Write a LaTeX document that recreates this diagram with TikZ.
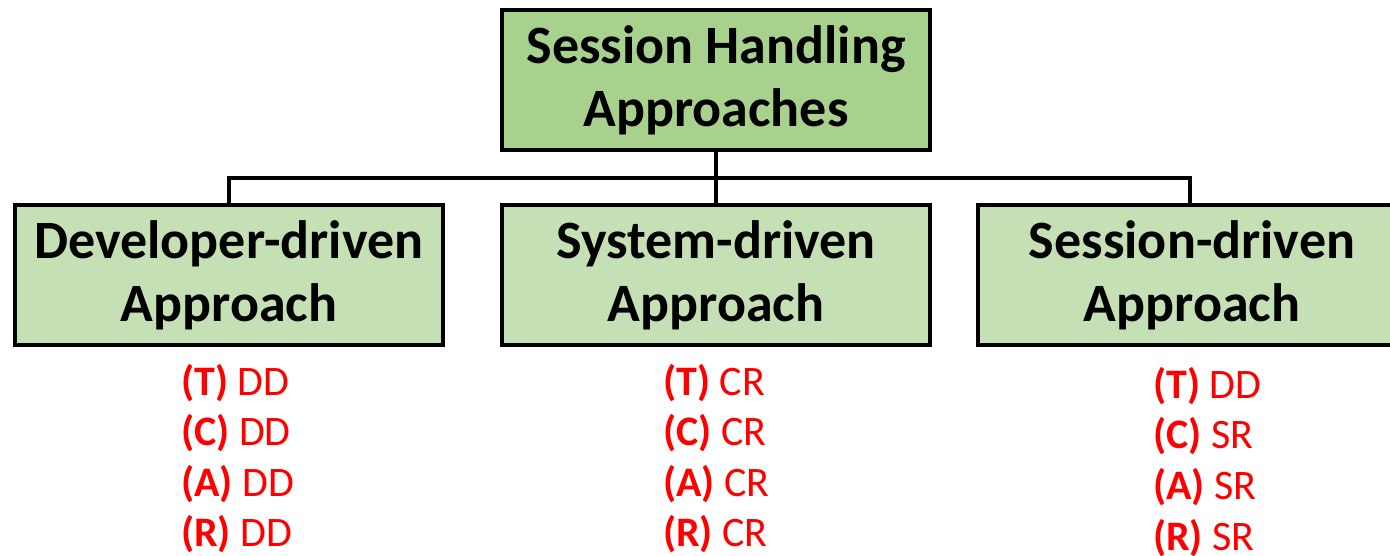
\documentclass[tikz,border=0pt]{standalone}
\usepackage{fontspec}
\setmainfont{Carlito}
\definecolor{topgreen}{HTML}{A9D18E}
\definecolor{subgreen}{HTML}{C5E0B4}
\definecolor{lblred}{HTML}{FF0000}
\begin{document}
\begin{tikzpicture}[x=1pt,y=-1pt,
  box/.style={draw=black,line width=4pt,minimum width=428pt,minimum height=140pt,
    inner sep=0pt,align=center,font=\fontsize{54}{63}\selectfont\bfseries},
  conn/.style={draw=black,line width=3.5pt},
  lbl/.style={anchor=base west,inner sep=0pt,text=lblred,font=\fontsize{42}{50}\selectfont}]
\useasboundingbox (0,0) rectangle (1390,556);
\node[box,fill=topgreen] (top) at (716,80) {Session Handling\\Approaches};
\node[box,fill=subgreen] (dev) at (229,275) {Developer-driven\\Approach};
\node[box,fill=subgreen] (sys) at (716,275) {System-driven\\Approach};
\node[box,fill=subgreen] (ses) at (1192,275) {Session-driven\\Approach};
\coordinate (j) at (716,178);
\draw[conn] (top.south) -- (j);
\draw[conn] (j) -| (dev.north);
\draw[conn] (j) -- (sys.north);
\draw[conn] (j) -| ([xshift=-2pt]ses.north);
% left column
\node[lbl] (d1) at (181,395) {\textbf{(T)} DD};
\node[lbl] (d2) at (181,445) {\textbf{(C)} DD};
\node[lbl] (d3) at (181,496) {\textbf{(A)} DD};
\node[lbl] (d4) at (181,546) {\textbf{(R)} DD};
% middle column
\node[lbl] (s1) at (663,395) {\textbf{(T)} CR};
\node[lbl] (s2) at (663,445) {\textbf{(C)} CR};
\node[lbl] (s3) at (663,496) {\textbf{(A)} CR};
\node[lbl] (s4) at (663,546) {\textbf{(R)} CR};
% right column
\node[lbl] (e1) at (1153,398) {\textbf{(T)} DD};
\node[lbl] (e2) at (1153,448) {\textbf{(C)} SR};
\node[lbl] (e3) at (1153,499) {\textbf{(A)} SR};
\node[lbl] (e4) at (1153,550) {\textbf{(R)} SR};
\end{tikzpicture}
\end{document}
